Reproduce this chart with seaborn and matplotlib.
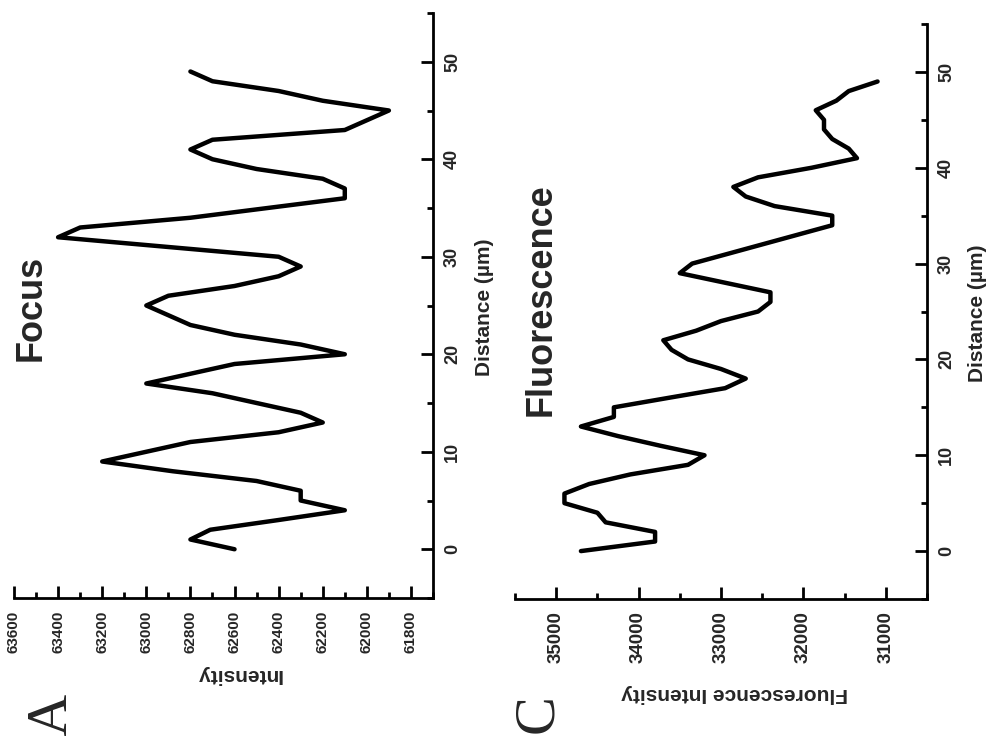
import matplotlib
matplotlib.use("Agg")
import matplotlib.pyplot as plt
import matplotlib.ticker as mticker
from matplotlib import font_manager
import seaborn as sns
import pandas as pd

# profile along the line, one sample per micron
distance = list(range(50))
focus_intensity = [62600, 62800, 62710, 62400, 62100, 62300, 62300, 62500, 62880, 63200,
                   63000, 62800, 62400, 62200, 62300, 62500, 62700, 63000, 62800, 62600,
                   62100, 62300, 62600, 62800, 62900, 63000, 62900, 62600, 62400, 62300,
                   62400, 62900, 63400, 63300, 62800, 62450, 62100, 62100, 62200, 62500,
                   62700, 62800, 62700, 62100, 62000, 61900, 62200, 62400, 62700, 62800]
fluor_intensity = [34700, 33800, 33800, 34400, 34500, 34900, 34900, 34600, 34100, 33400,
                   33200, 33740, 34250, 34700, 34300, 34300, 33630, 32950, 32700, 33000,
                   33400, 33600, 33700, 33300, 33000, 32550, 32400, 32400, 32950, 33500,
                   33350, 32925, 32500, 32075, 31650, 31650, 32350, 32700, 32850, 32550,
                   31900, 31350, 31450, 31650, 31750, 31750, 31850, 31600, 31450, 31100]

focus_ticks = [63600, 63400, 63200, 63000, 62800, 62600, 62400, 62200, 62000, 61800]
fluor_ticks = [35000, 34000, 33000, 32000, 31000]
distance_ticks = [0, 10, 20, 30, 40, 50]

sns.set_theme(style="ticks")
plt.rcParams['font.family'] = ['Liberation Sans', 'DejaVu Sans']

installed = {f.name for f in font_manager.fontManager.ttflist}
if 'Liberation Sans Narrow' in installed:
    narrow, narrow_size = 'Liberation Sans Narrow', 12.5
else:
    narrow, narrow_size = 'Liberation Sans', 11

W, H = 989, 736
fig = plt.figure(figsize=(W / 100, H / 100), dpi=100)


def px_axes(x0, y0, x1, y1):
    return fig.add_axes([x0 / W, 1 - y1 / H, (x1 - x0) / W, (y1 - y0) / H])


def profile_panel(ax, values, xlim, xticks, xminor, xsize, xfamily, xlabel, xlab_pos, ylab_pos):
    df = pd.DataFrame({'distance': distance, 'intensity': values})
    sns.lineplot(data=df, x='intensity', y='distance', orient='y', sort=False,
                 estimator=None, color='black', linewidth=3.2, ax=ax)
    ax.set_xlim(*xlim)
    ax.set_ylim(-5, 55)
    for s in ['top', 'left']:
        ax.spines[s].set_visible(False)
    for s in ['bottom', 'right']:
        ax.spines[s].set_linewidth(2)
        ax.spines[s].set_color('black')

    ax.set_xticks(xticks)
    ax.set_xticklabels([str(t) for t in xticks], rotation=90, fontsize=xsize,
                       fontweight='bold', family=xfamily)
    ax.xaxis.set_minor_locator(mticker.MultipleLocator(xminor))
    ax.yaxis.tick_right()
    ax.yaxis.set_label_position('right')
    ax.set_yticks(distance_ticks)
    ax.set_yticklabels([str(t) for t in distance_ticks], rotation=90, fontsize=13,
                       fontweight='bold', va='center')
    ax.yaxis.set_minor_locator(mticker.MultipleLocator(5))
    ax.tick_params(axis='x', which='both', direction='in', bottom=True, top=False,
                   width=2, color='black', pad=9)
    ax.tick_params(axis='y', which='both', direction='in', right=True, left=False,
                   labelright=True, labelleft=False, width=2, color='black', pad=8)
    ax.tick_params(which='major', length=9)
    ax.tick_params(which='minor', length=4)

    ax.set_xlabel(xlabel, rotation=180, fontsize=15, fontweight='bold', va='center')
    ax.xaxis.set_label_coords(*xlab_pos)
    ax.set_ylabel('Distance (\u00b5m)', rotation=90, fontsize=15, fontweight='bold',
                  va='center', ha='center')
    ax.yaxis.set_label_coords(*ylab_pos)
    ax.set_facecolor('white')


ax_a = px_axes(14, 13, 433, 598)
profile_panel(ax_a, focus_intensity, (63600, 61700), focus_ticks, 100, narrow_size, narrow,
              'Intensity', (0.537, -0.13), (1.124, 0.497))

ax_c = px_axes(515, 24, 927, 599)
profile_panel(ax_c, fluor_intensity, (35500, 30500), fluor_ticks, 500, 13.5, 'Liberation Sans',
              'Fluorescence Intensity', (0.532, -0.165), (1.122, 0.497))


def fig_text(px, py, s, **kw):
    fig.text(px / W, 1 - py / H, s, ha='center', va='center', rotation=90, **kw)


fig_text(31, 308, 'Focus', fontsize=26, fontweight='bold')
fig_text(541, 300, 'Fluorescence', fontsize=26, fontweight='bold')
fig_text(52, 715, 'A', fontsize=42, family='Liberation Serif')
fig_text(538, 714, 'C', fontsize=42, family='Liberation Serif')

fig.savefig('out.png', dpi=100, facecolor='white')
